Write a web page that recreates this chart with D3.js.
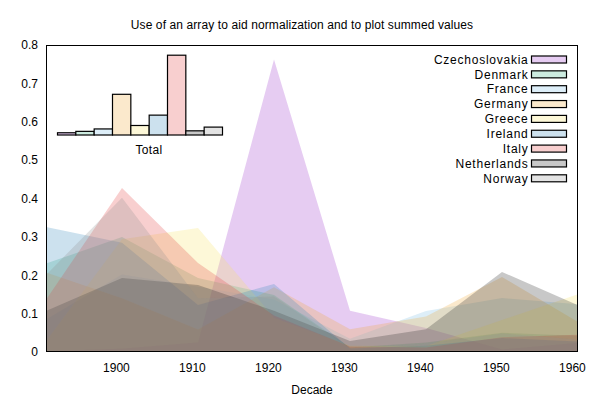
<!DOCTYPE html>
<html>
<head>
<meta charset="utf-8">
<script src="https://cdn.jsdelivr.net/npm/d3@7"></script>
<style>
  html, body { margin: 0; padding: 0; background: #fff; }
  svg { display: block; font-family: "Liberation Sans", Arial, sans-serif; }
</style>
</head>
<body>
<svg id="chart" width="600" height="400"></svg>
<script>
// ---- data: US immigration by decade (start year of each decade) ----
const decades = [1891, 1901, 1911, 1921, 1931, 1941, 1951, 1961];
const countries = ["Czechoslovakia", "Denmark", "France", "Germany", "Greece",
                   "Ireland", "Italy", "Netherlands", "Norway"];
const czechoslovakia = [377, 1201, 3426, 102194, 14393, 8347, 918, 3273];
const denmark        = [50231, 65285, 41983, 32430, 2559, 5393, 10984, 9201];
const france         = [30770, 73379, 61897, 49610, 12623, 38809, 51121, 45237];
const germany        = [505152, 341498, 143945, 412202, 144058, 226578, 477765, 190796];
const greece         = [15979, 167519, 184201, 51084, 9119, 8973, 47608, 85969];
const ireland        = [388416, 339065, 146181, 211234, 10973, 19789, 43362, 32966];
const italy          = [651893, 2045877, 1109524, 455315, 68028, 57661, 185491, 214111];
const netherlands    = [26758, 48262, 43718, 26948, 7150, 14860, 52277, 30606];
const norway         = [95015, 190505, 66395, 68531, 4740, 10100, 22935, 15484];
const xTickValues = [1900, 1910, 1920, 1930, 1940, 1950, 1960];
const yTickValues = [0, 0.1, 0.2, 0.3, 0.4, 0.5, 0.6, 0.7, 0.8];
const colors = ["#9b33cb", "#33af7f", "#77bbe3", "#efa733", "#f7e363",
                "#3387bb", "#e33f3f", "#232323", "#8f8f8f"];

const series = [czechoslovakia, denmark, france, germany, greece, ireland, italy, netherlands, norway];
// the "array" of totals used for normalization
const Total = series.map(s => d3.sum(s));

const svg = d3.select("#chart");
const mLeft = 46, mRight = 578, mTop = 45, mBottom = 352;
const alpha = 0.25;

const x = d3.scaleLinear().domain([1891, 1961]).range([mLeft, mRight]);
const y = d3.scaleLinear().domain([0, 0.8]).range([mBottom, mTop]);

// title
svg.append("text").attr("x", 302).attr("y", 29).attr("text-anchor", "middle")
  .attr("font-size", 12).attr("letter-spacing", "0.1px")
  .text("Use of an array to aid normalization and to plot summed values");

svg.append("defs").append("clipPath").attr("id", "clip")
  .append("rect").attr("x", mLeft).attr("y", mTop).attr("width", mRight - mLeft).attr("height", mBottom - mTop);

const area = d3.area().x(d => x(d.x)).y0(y(0)).y1(d => y(d.y));
const g = svg.append("g").attr("clip-path", "url(#clip)");
series.forEach((s, i) => {
  const pts = s.map((v, j) => ({ x: decades[j], y: v / Total[i] }));
  g.append("path").datum(pts).attr("d", area)
    .attr("fill", colors[i]).attr("fill-opacity", alpha).attr("stroke", "none");
});

// axes (no tick marks)
const xAxis = svg.append("g").attr("transform", `translate(1.5,${mBottom})`)
  .call(d3.axisBottom(x).tickValues(xTickValues).tickSize(0).tickPadding(11).tickFormat(d3.format("d")));
xAxis.select(".domain").remove();
xAxis.selectAll("text").attr("font-size", 12).attr("font-family", "Liberation Sans, Arial, sans-serif").attr("fill", "#000");

const yAxis = svg.append("g").attr("transform", `translate(${mLeft},0)`)
  .call(d3.axisLeft(y).tickValues(yTickValues).tickSize(0).tickPadding(8)
    .tickFormat(d => d === 0 ? "0" : d3.format(".1f")(d)));
yAxis.select(".domain").remove();
yAxis.selectAll("text").attr("font-size", 12).attr("font-family", "Liberation Sans, Arial, sans-serif").attr("fill", "#000");

svg.append("text").attr("x", (mLeft + mRight) / 2).attr("y", 394).attr("text-anchor", "middle")
  .attr("font-size", 12).text("Decade");

// border
svg.append("rect").attr("x", mLeft + 0.5).attr("y", mTop + 0.5)
  .attr("width", mRight - mLeft - 1).attr("height", mBottom - mTop - 1)
  .attr("fill", "none").attr("stroke", "#000").attr("stroke-width", 1);

// inset histogram of totals
const bx = d3.scaleBand().domain(countries).range([57.5, 222.5]).padding(0);
const by = d3.scaleLinear().domain([0, 4.8e6]).range([135, 55]);
const inset = svg.append("g");
countries.forEach((c, i) => {
  inset.append("rect").attr("x", bx(c)).attr("y", by(Total[i]))
    .attr("width", bx.bandwidth()).attr("height", by(0) - by(Total[i]))
    .attr("fill", "#fff").attr("stroke", "none");
  inset.append("rect").attr("x", bx(c)).attr("y", by(Total[i]))
    .attr("width", bx.bandwidth()).attr("height", by(0) - by(Total[i]))
    .attr("fill", colors[i]).attr("fill-opacity", alpha)
    .attr("stroke", "#000").attr("stroke-width", 1.2);
});
inset.append("text").attr("x", 149).attr("y", 154).attr("text-anchor", "middle")
  .attr("font-size", 12).attr("letter-spacing", "0.3px").text("Total");

// legend
const leg = svg.append("g");
countries.forEach((c, i) => {
  const cy = 59.5 + i * 14.85;
  leg.append("text").attr("x", 528.5).attr("y", cy).attr("dy", "0.35em")
    .attr("text-anchor", "end").attr("font-size", 12).attr("letter-spacing", "0.75px").text(c);
  leg.append("rect").attr("x", 531.5).attr("y", cy - 3.5).attr("width", 35).attr("height", 7)
    .attr("fill", colors[i]).attr("fill-opacity", alpha)
    .attr("stroke", "#000").attr("stroke-width", 1.2);
});
</script>
</body>
</html>
